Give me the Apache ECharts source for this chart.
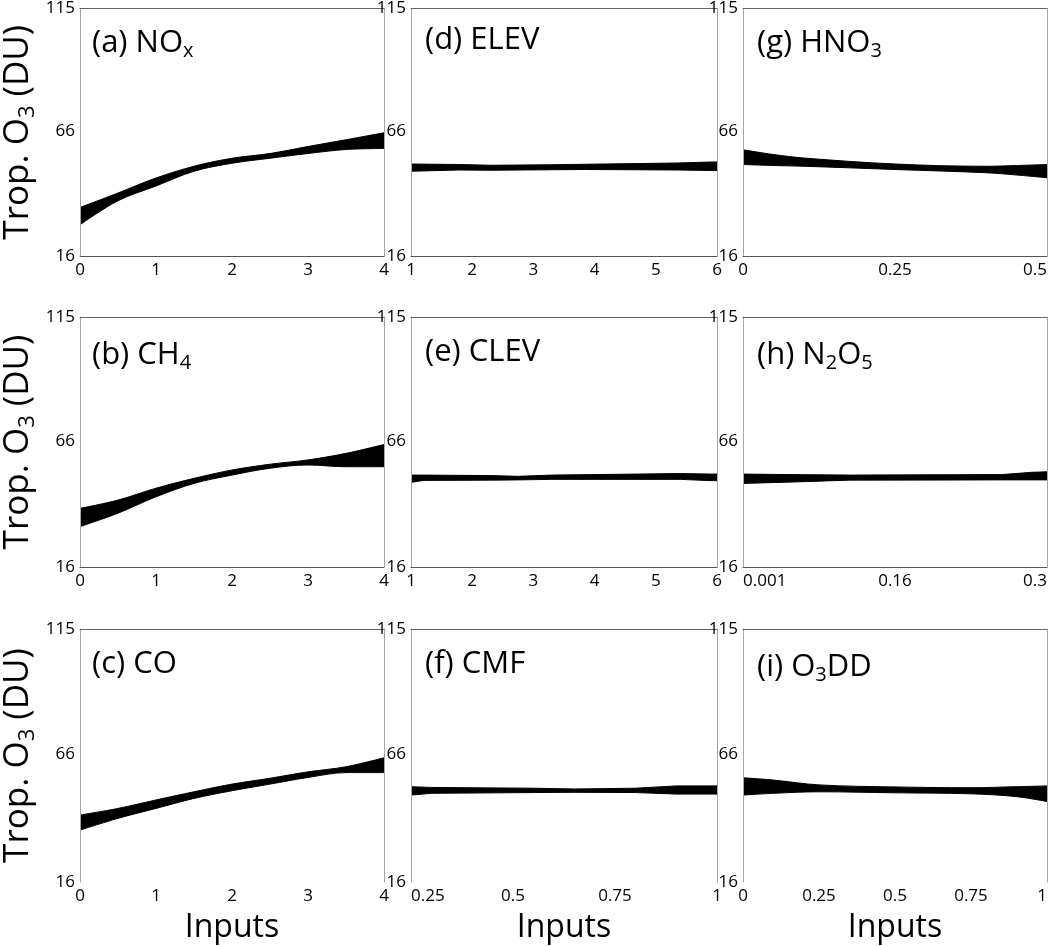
<!DOCTYPE html>
<html>
<head>
<meta charset="utf-8">
<script src="https://cdn.jsdelivr.net/npm/echarts@6/dist/echarts.min.js"></script>
<style>html,body{margin:0;padding:0;background:#fff}#c{width:1050px;height:946px}</style>
</head>
<body>
<div id="c"></div>
<script>
// ---- data ----
const titles = ['(a) NO{sub|x}','(b) CH{sub|4}','(c) CO','(d) ELEV','(e) CLEV','(f) CMF','(g) HNO{sub|3}','(h) N{sub|2}O{sub|5}','(i) O{sub|3}DD'];
const yTicks = [16, 66, 115];

const xA = [0, 0.5, 1, 1.5, 2, 2.5, 3, 3.5, 4];
const upA = [35.4, 41.2, 47.2, 51.9, 55.1, 57.0, 59.8, 62.5, 65.3];
const loA = [28.5, 38.1, 44.0, 49.9, 53.1, 55.1, 57.0, 58.6, 59.0];

const xB = [0, 0.5, 1, 1.5, 2, 2.5, 3, 3.5, 4];
const upB = [39.2, 42.5, 47.2, 51.1, 54.4, 56.7, 58.4, 61.0, 64.5];
const loB = [32.0, 37.3, 43.8, 49.1, 52.4, 55.1, 56.4, 55.7, 55.7];

const xC = [0, 0.5, 1, 1.5, 2, 2.5, 3, 3.5, 4];
const upC = [42.2, 44.8, 48.1, 51.3, 54.3, 56.6, 59.1, 61.1, 64.6];
const loC = [36.3, 40.9, 44.8, 48.7, 51.7, 54.3, 56.9, 58.8, 58.8];

const xD = [1, 1.78, 2.3, 3.3, 3.85, 5.35, 5.9, 6];
const upD = [52.8, 52.6, 52.3, 52.5, 52.7, 53.2, 53.6, 53.6];
const loD = [49.9, 50.4, 50.3, 50.5, 50.6, 50.4, 50.2, 50.2];

const xE = [1, 1.2, 2.3, 2.75, 3.3, 5.4, 5.9, 6];
const upE = [52.4, 52.4, 52.2, 51.9, 52.4, 53.0, 52.8, 52.8];
const loE = [49.5, 50.3, 50.4, 50.5, 50.7, 50.7, 50.2, 50.2];

const xF = [0.25, 0.3, 0.55, 0.65, 0.8, 0.9, 1];
const upF = [53.3, 53.0, 52.7, 52.4, 52.7, 53.6, 53.6];
const loF = [50.0, 50.7, 51.0, 51.1, 51.0, 50.4, 50.4];

const xG = [0, 0.05, 0.1, 0.25, 0.4, 0.45, 0.5];
const upG = [58.5, 56.6, 55.2, 52.8, 51.9, 52.2, 52.6];
const loG = [52.6, 52.2, 51.9, 50.6, 49.3, 48.4, 47.3];

const xH = [0.001, 0.045, 0.106, 0.256, 0.285, 0.3];
const upH = [52.8, 52.6, 52.4, 52.6, 53.5, 53.7];
const loH = [49.1, 49.6, 50.4, 50.5, 50.5, 50.5];

const xI = [0, 0.1, 0.25, 0.5, 0.75, 0.9, 1];
const upI = [56.8, 55.9, 54.0, 53.2, 52.9, 53.3, 53.6];
const loI = [50.0, 50.7, 51.3, 50.9, 50.5, 49.4, 47.5];

const xTicksABC = ['0', '1', '2', '3', '4'];
const xTicksDE = ['1', '2', '3', '4', '5', '6'];
const xTicksF = ['0.25', '0.5', '0.75', '1'];
const xTicksG = ['0', '0.25', '0.5'];
const xTicksH = ['0.001', '0.16', '0.3'];
const xTicksI = ['0', '0.25', '0.5', '0.75', '1'];

// ---- layout ----
const FONT = 'Open Sans';
const rowTop = [5, 317, 629], rowH = [251, 250, 253];
const colLeft = [78, 411, 743], colW = [306, 306, 305];

const panels = [
  {x: xA, up: upA, lo: loA, min: 0, max: 4, ticks: xTicksABC, smooth: true},
  {x: xB, up: upB, lo: loB, min: 0, max: 4, ticks: xTicksABC, smooth: true},
  {x: xC, up: upC, lo: loC, min: 0, max: 4, ticks: xTicksABC, smooth: true},
  {x: xD, up: upD, lo: loD, min: 1, max: 6, ticks: xTicksDE, smooth: false},
  {x: xE, up: upE, lo: loE, min: 1, max: 6, ticks: xTicksDE, smooth: false},
  {x: xF, up: upF, lo: loF, min: 0.25, max: 1, ticks: xTicksF, smooth: false, alignMin: 'left'},
  {x: xG, up: upG, lo: loG, min: 0, max: 0.5, ticks: xTicksG, smooth: true, alignMax: 'right'},
  {x: xH, up: upH, lo: loH, min: 0.001, max: 0.3, ticks: xTicksH, smooth: false, alignMin: 'left', alignMax: 'right'},
  {x: xI, up: upI, lo: loI, min: 0, max: 1, ticks: xTicksI, smooth: true, alignMax: 'right'}
];

const grid = [], xAxis = [], yAxis = [], series = [], title = [];
const subRich = (fs, pad) => ({sub: {fontSize: fs, fontFamily: FONT, color: '#000', padding: [pad, 0, 0, 0]}});

panels.forEach((p, i) => {
  const col = Math.floor(i / 3), row = i % 3;
  grid.push({left: colLeft[col], top: rowTop[row], width: colW[col], height: rowH[row], containLabel: false});
  const n = p.ticks.length;
  const tickPos = p.ticks.map((t, k) => p.min + k * (p.max - p.min) / (n - 1));
  xAxis.push({
    type: 'value', gridIndex: i, position: 'bottom', min: p.min, max: p.max, z: 5,
    axisLine: {show: row < 2, onZero: false, lineStyle: {color: '#555', width: 1}},
    axisTick: {show: false}, splitLine: {show: false},
    axisLabel: {
      customValues: tickPos,
      formatter: (v) => { const k = tickPos.findIndex(t => Math.abs(t - v) < 1e-9); return k >= 0 ? p.ticks[k] : ''; },
      fontFamily: FONT, fontSize: 17, color: '#000', margin: 6,
      alignMinLabel: p.alignMin || 'center', alignMaxLabel: p.alignMax || 'center'
    },
    name: row === 2 ? 'Inputs' : '', nameLocation: 'middle', nameGap: 30,
    nameTextStyle: {fontFamily: FONT, fontSize: 32, color: '#000'}
  });
  xAxis.push({
    type: 'value', gridIndex: i, position: 'top', min: p.min, max: p.max, z: 5,
    axisLine: {show: true, onZero: false, lineStyle: {color: '#666', width: 1}},
    axisTick: {show: false}, splitLine: {show: false}, axisLabel: {show: false}
  });
  yAxis.push({
    type: 'value', gridIndex: i, position: 'left', min: 16, max: 115, z: 5,
    axisLine: {show: true, onZero: false, lineStyle: {color: '#a6a6a6', width: 1}},
    axisTick: {show: false}, splitLine: {show: false},
    axisLabel: {customValues: yTicks, fontFamily: FONT, fontSize: 17, color: '#000', margin: 5},
    name: col === 0 ? 'Trop. O{sub|3} (DU)' : '', nameLocation: 'middle', nameGap: 41,
    nameTextStyle: {fontFamily: FONT, fontSize: 35, color: '#000', rich: subRich(22, 19)}
  });
  yAxis.push({
    type: 'value', gridIndex: i, position: 'right', min: 16, max: 115, z: 5,
    axisLine: {show: true, onZero: false, lineStyle: {color: '#a6a6a6', width: 1}},
    axisTick: {show: false}, splitLine: {show: false}, axisLabel: {show: false}
  });
  const common = {type: 'line', xAxisIndex: 2 * i, yAxisIndex: 2 * i, symbol: 'none',
    smooth: p.smooth ? 0.35 : false, silent: true, lineStyle: {color: '#000', width: 1}};
  // upper edge: fill black down to the axis floor
  series.push(Object.assign({}, common, {z: 2, data: p.x.map((v, k) => [v, p.up[k]]),
    areaStyle: {color: '#000', opacity: 1, origin: 'start'}}));
  // lower edge: clear (white) below the band
  series.push(Object.assign({}, common, {z: 3, data: p.x.map((v, k) => [v, p.lo[k]]),
    areaStyle: {color: '#fff', opacity: 1, origin: 'start'}}));
  title.push({
    text: titles[i], left: colLeft[col] + 9, top: rowTop[row] + 15,
    textStyle: {fontFamily: FONT, fontSize: 31, fontWeight: 'normal', color: '#000', rich: subRich(20, 16)}
  });
});

const chart = echarts.init(document.getElementById('c'), null, {renderer: 'canvas'});
chart.setOption({
  backgroundColor: '#fff', animation: false,
  title, grid, xAxis, yAxis, series
});
</script>
</body>
</html>
